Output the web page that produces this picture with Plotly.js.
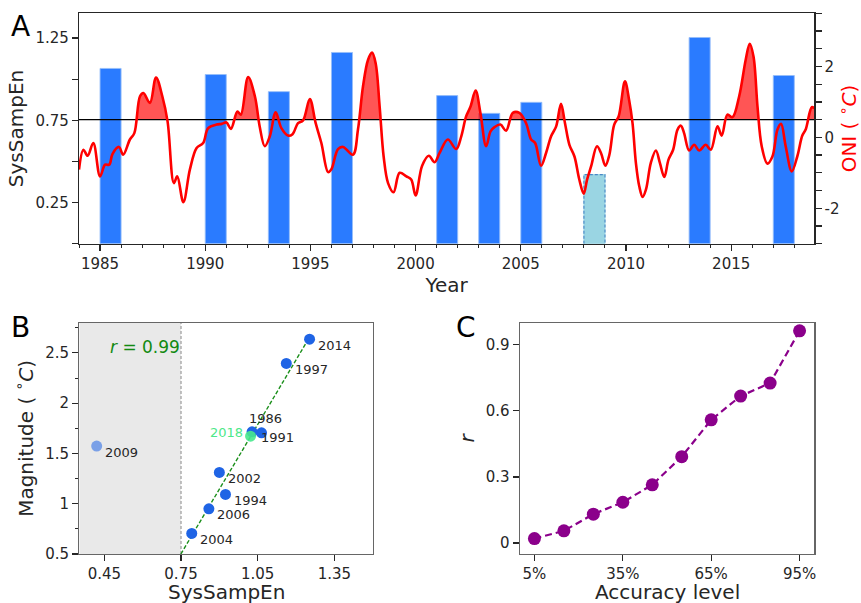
<!DOCTYPE html>
<html>
<head>
<meta charset="utf-8">
<script src="https://cdn.plot.ly/plotly-3.0.1.min.js"></script>
<style>html,body{margin:0;padding:0;background:#fff}#chart{width:861px;height:603px}</style>
</head>
<body>
<div id="chart"></div>
<script>
// ---------------- DATA ----------------
const oniYears = [1984.0,1984.21,1984.41,1984.68,1985.0,1985.24,1985.44,1985.59,1985.9,1986.1,1986.42,1986.63,1986.9,1987.06,1987.37,1987.66,1987.96,1988.21,1988.51,1988.67,1988.96,1989.27,1989.59,1989.9,1990.14,1990.54,1990.78,1991.01,1991.22,1991.53,1991.69,1992.04,1992.36,1992.59,1992.83,1993.07,1993.35,1993.62,1993.94,1994.15,1994.41,1994.65,1994.97,1995.25,1995.52,1995.84,1995.99,1996.31,1996.55,1997.02,1997.26,1997.5,1997.74,1997.93,1998.1,1998.29,1998.48,1998.69,1998.95,1999.24,1999.56,1999.79,2000.0,2000.31,2000.63,2000.9,2001.14,2001.53,2001.93,2002.17,2002.4,2002.61,2002.85,2003.08,2003.35,2003.56,2003.75,2004.03,2004.3,2004.62,2004.93,2005.25,2005.49,2005.68,2005.96,2006.2,2006.44,2006.68,2006.91,2007.1,2007.31,2007.55,2007.78,2007.99,2008.15,2008.34,2008.62,2008.81,2009.02,2009.21,2009.44,2009.65,2009.95,2010.15,2010.31,2010.47,2010.63,2010.79,2010.95,2011.18,2011.42,2011.61,2011.82,2012.02,2012.24,2012.45,2012.61,2012.76,2013.0,2013.24,2013.48,2013.79,2014.03,2014.35,2014.55,2014.82,2015.06,2015.38,2015.69,2015.88,2016.06,2016.25,2016.45,2016.72,2016.96,2017.2,2017.37,2017.59,2017.88,2018.14,2018.38,2018.54,2018.83,2018.95];
const oniValues = [-0.91,-0.35,-0.52,-0.16,-1.10,-0.77,-0.77,-0.47,-0.27,-0.49,-0.06,0.12,1.16,1.25,0.97,1.69,1.16,0.45,-1.29,-1.10,-1.83,-0.91,-0.30,-0.16,0.26,0.36,0.38,0.42,0.24,0.73,0.64,1.70,1.16,0.30,-0.25,0.03,0.71,0.26,0.05,0.09,0.40,0.48,1.08,0.40,-0.16,-0.98,-0.91,-0.33,-0.27,-0.49,0.22,1.44,2.19,2.39,2.09,0.87,-0.54,-1.29,-1.55,-1.00,-1.10,-1.19,-1.64,-0.80,-0.52,-0.70,-0.44,-0.06,-0.33,0.03,0.59,0.87,1.32,0.69,-0.25,0.17,0.29,0.36,0.19,0.69,0.69,0.40,-0.06,-0.16,-0.80,-0.44,0.03,0.31,0.95,0.40,-0.21,-0.54,-1.19,-1.59,-1.19,-0.82,-0.25,-0.44,-0.80,-0.49,0.36,0.59,1.58,1.05,0.40,-0.72,-1.38,-1.68,-1.47,-0.72,-0.37,-0.72,-1.12,-0.63,-0.35,0.22,0.33,0.12,-0.37,-0.21,-0.37,-0.21,-0.35,0.31,0.05,0.64,0.57,1.16,2.19,2.64,2.28,0.87,-0.25,-0.74,-0.54,0.22,0.38,-0.25,-0.96,-0.54,0.05,0.22,0.85,0.82];

const eventYears = [1986,1991,1994,1997,2002,2004,2006,2009,2014,2018];
const sysSampEn  = [1.065,1.028,0.924,1.162,0.900,0.792,0.859,0.420,1.253,1.022];
const magnitude  = [1.705,1.715,1.092,2.395,1.311,0.705,0.949,1.573,2.636,1.672];

const accuracyLevels = [5,15,25,35,45,55,65,75,85,95];
const accuracyR      = [0.020,0.055,0.131,0.185,0.264,0.392,0.559,0.667,0.726,0.963];

const oniThreshold = 0.5;     // ONI El Nino threshold (right axis)
const sseThreshold = 0.75;    // SysSampEn threshold
const rText = '0.99';

// ---------------- STYLE ----------------
const FONT = 'DejaVu Sans, sans-serif';
const INK = '#262626';
const BLUE_BAR = '#2a7bff';
const CYAN_BAR = '#9ad5e3';
const labelShift = {1986:[4,14], 2018:[-24,4]};
const defShift = [25,-6];

// ---------------- PANEL A ----------------
const barX = eventYears.map(y => y - 0.5);
const barColors = sysSampEn.map(v => v < sseThreshold ? CYAN_BAR : BLUE_BAR);
const barLines = sysSampEn.map(v => v < sseThreshold ? CYAN_BAR : 'rgba(150,190,250,0.9)');

// fill region above threshold, with crossing points inserted
const fx = [], fy = [];
for (let i = 0; i < oniYears.length; i++) {
  if (i > 0) {
    const a = oniValues[i-1] - oniThreshold, b = oniValues[i] - oniThreshold;
    if (a * b < 0) {
      const t = a / (a - b);
      fx.push(oniYears[i-1] + t * (oniYears[i] - oniYears[i-1]));
      fy.push(oniThreshold);
    }
  }
  fx.push(oniYears[i]);
  fy.push(Math.max(oniValues[i], oniThreshold));
}

const traces = [];
traces.push({type:'bar', x:barX, y:sysSampEn, width:1, xaxis:'x', yaxis:'y',
  marker:{color:barColors, line:{color:barLines, width:1}}, hoverinfo:'skip', showlegend:false});
// dashed outline for the below-threshold bar(s)
eventYears.forEach((yr,i) => {
  if (sysSampEn[i] < sseThreshold) {
    traces.push({type:'scatter', mode:'lines', x:[yr-1, yr-1, yr, yr], y:[0, sysSampEn[i], sysSampEn[i], 0],
      xaxis:'x', yaxis:'y', line:{color:'#4a87c6', width:1.1, dash:'3px,2px'}, hoverinfo:'skip', showlegend:false});
  }
});
traces.push({type:'scatter', mode:'lines', x:fx, y:fx.map(()=>oniThreshold), xaxis:'x', yaxis:'y2',
  line:{width:0, color:'rgba(0,0,0,0)'}, hoverinfo:'skip', showlegend:false});
traces.push({type:'scatter', mode:'lines', x:fx, y:fy, xaxis:'x', yaxis:'y2', fill:'tonexty',
  fillcolor:'rgba(255,20,20,0.72)', line:{width:0, shape:'spline', smoothing:1, color:'rgba(0,0,0,0)'},
  hoverinfo:'skip', showlegend:false});
traces.push({type:'scatter', mode:'lines', x:[oniYears[0]-1, oniYears[oniYears.length-1]+1],
  y:[oniThreshold, oniThreshold], xaxis:'x', yaxis:'y2', line:{color:'#000', width:1.3},
  hoverinfo:'skip', showlegend:false});
traces.push({type:'scatter', mode:'lines', x:oniYears, y:oniValues, xaxis:'x', yaxis:'y2',
  line:{color:'#ff0000', width:2.6, shape:'spline', smoothing:1}, showlegend:false});

// ---------------- PANEL B ----------------
const fitIdx = sysSampEn.map((v,i)=>i).filter(i => sysSampEn[i] >= sseThreshold);
const mx = fitIdx.reduce((s,i)=>s+sysSampEn[i],0)/fitIdx.length;
const my = fitIdx.reduce((s,i)=>s+magnitude[i],0)/fitIdx.length;
let sxy = 0, sxx = 0;
fitIdx.forEach(i => { sxy += (sysSampEn[i]-mx)*(magnitude[i]-my); sxx += (sysSampEn[i]-mx)**2; });
const slope = sxy/sxx, icpt = my - slope*mx;
const yBottom = 0.5;
const fitX0 = (yBottom - icpt)/slope;
const fitX1 = Math.max(...fitIdx.map(i=>sysSampEn[i]));
traces.push({type:'scatter', mode:'lines', x:[fitX0, fitX1], y:[slope*fitX0+icpt, slope*fitX1+icpt],
  xaxis:'x2', yaxis:'y3', line:{color:'#1b8f1b', width:1.4, dash:'4px,2px'}, hoverinfo:'skip', showlegend:false});

const ptColors = eventYears.map((y,i) => y === 2018 ? 'rgba(70,232,140,0.9)' :
  (sysSampEn[i] < sseThreshold ? 'rgba(31,100,229,0.55)' : '#1f64e5'));
const order = eventYears.map((y,i)=>i).sort((a,b)=> (eventYears[a]===2018) - (eventYears[b]===2018));
traces.push({type:'scatter', mode:'markers', x:order.map(i=>sysSampEn[i]), y:order.map(i=>magnitude[i]),
  xaxis:'x2', yaxis:'y3', marker:{size:11, color:order.map(i=>ptColors[i])}, showlegend:false});

// ---------------- PANEL C ----------------
traces.push({type:'scatter', mode:'lines+markers', x:accuracyLevels, y:accuracyR, xaxis:'x3', yaxis:'y4',
  line:{color:'#8b008b', width:2.2, dash:'7px,4px'}, marker:{size:13, color:'#8b008b'}, showlegend:false});

// ---------------- LAYOUT ----------------
const W = 861, H = 603;
const dx = (a,b) => [a/W, b/W];
const dy = (top,bot) => [1 - bot/H, 1 - top/H];
const tickFont = {family:FONT, size:15, color:INK};
const titleFont = {family:FONT, size:20, color:INK};
const panelFont = {family:FONT, size:28, color:'#000'};

const annotations = [
  {text:'A', x:20/W, y:1-26/H, xref:'paper', yref:'paper', xanchor:'center', yanchor:'middle', showarrow:false, font:panelFont},
  {text:'B', x:20/W, y:1-327/H, xref:'paper', yref:'paper', xanchor:'center', yanchor:'middle', showarrow:false, font:panelFont},
  {text:'C', x:466/W, y:1-327/H, xref:'paper', yref:'paper', xanchor:'center', yanchor:'middle', showarrow:false, font:panelFont},
  {text:'<i>r</i> = ' + rText, x:108/W, y:1-347/H, xref:'paper', yref:'paper', xanchor:'left', yanchor:'middle', showarrow:false,
   font:{family:FONT, size:17, color:'#128a12'}},
  // bottom axis titles of panels B and C
  {text:'SysSampEn', x:0.5, xref:'x2 domain', y:1-592/H, yref:'paper', xanchor:'center', yanchor:'middle', showarrow:false, font:titleFont},
  {text:'Accuracy level', x:0.5, xref:'x3 domain', y:1-592/H, yref:'paper', xanchor:'center', yanchor:'middle', showarrow:false, font:titleFont}
];
eventYears.forEach((yr,i) => {
  const s = labelShift[yr] || defShift;
  annotations.push({text:String(yr), x:sysSampEn[i], y:magnitude[i], xref:'x2', yref:'y3', showarrow:false,
    xshift:s[0], yshift:s[1], font:{family:FONT, size:13, color: yr===2018 ? '#4de889' : INK}});
});

const xBmin = 0.352, xBmax = 1.50;
const shapes = [
  {type:'rect', xref:'x2', yref:'y3 domain', x0:xBmin, x1:sseThreshold, y0:0, y1:1,
   fillcolor:'#e9e9e9', line:{width:0}, layer:'below'},
  {type:'line', xref:'x2', yref:'y3 domain', x0:sseThreshold, x1:sseThreshold, y0:0, y1:1,
   line:{color:'#8a8a8a', width:1, dash:'3px,2px'}, layer:'below'}
];

const axBase = {ticks:'outside', ticklen:6, tickwidth:1.2, tickcolor:INK, showgrid:false, zeroline:false,
  tickfont:tickFont, showline:true, linewidth:1.2};

const layout = {
  width:W, height:H, margin:{l:0,r:0,t:0,b:0}, paper_bgcolor:'#fff', plot_bgcolor:'rgba(0,0,0,0)',
  font:{family:FONT, color:INK}, showlegend:false, bargap:0,
  xaxis:Object.assign({}, axBase, {domain:dx(79,814.3), anchor:'y', range:[1984, 2018.95],
    tickvals:[1985,1990,1995,2000,2005,2010,2015], linecolor:INK, mirror:true,
    minor:{dtick:1, ticks:'outside', ticklen:3.5, tickwidth:1, tickcolor:INK},
    title:{text:'Year', font:titleFont, standoff:3}}),
  yaxis:Object.assign({}, axBase, {domain:dy(13.3,243.7), anchor:'x', range:[0,1.4],
    tickvals:[0.25,0.75,1.25], ticktext:['0.25','0.75','1.25'], linecolor:INK,
    minor:{tickvals:[0,0.5,1.0], ticks:'outside', ticklen:6, tickwidth:1.2, tickcolor:INK},
    title:{text:'SysSampEn', font:titleFont, standoff:6}}),
  yaxis2:Object.assign({}, axBase, {overlaying:'y', side:'right', anchor:'x', range:[-3,3.5],
    tickvals:[-2,0,2], ticktext:['-2','0','2'], linecolor:INK,
    minor:{tickvals:[-3,-2.5,-1.5,-1,-0.5,0.5,1,1.5,2.5,3,3.5], ticks:'outside', ticklen:6, tickwidth:1.2, tickcolor:INK},
    title:{text:'ONI ( <sup>∘</sup><i>C</i>)', font:{family:FONT, size:20, color:'#ff0000'}, standoff:8}}),
  xaxis2:Object.assign({}, axBase, {domain:dx(79.3,372.7), anchor:'y3', range:[xBmin,xBmax],
    tickvals:[0.45,0.75,1.05,1.35], ticktext:['0.45','0.75','1.05','1.35'], linecolor:'#666', mirror:true}),
  yaxis3:Object.assign({}, axBase, {domain:dy(322.7,554), anchor:'x2', range:[0.5,2.8],
    tickvals:[0.5,1,1.5,2,2.5], ticktext:['0.5','1','1.5','2','2.5'], linecolor:'#666', mirror:true,
    minor:{tickvals:[0.75,1.25,1.75,2.25,2.75], ticks:'outside', ticklen:3.5, tickwidth:1, tickcolor:INK},
    title:{text:'Magnitude ( <sup>∘</sup><i>C</i>)', font:titleFont, standoff:6}}),
  xaxis3:Object.assign({}, axBase, {domain:dx(519.7,814.3), anchor:'y4', range:[0,100],
    tickvals:[5,35,65,95], ticktext:['5%','35%','65%','95%'], linecolor:'#666', mirror:true}),
  yaxis4:Object.assign({}, axBase, {domain:dy(322.7,554), anchor:'x3', range:[-0.05,1.0],
    tickvals:[0,0.3,0.6,0.9], ticktext:['0','0.3','0.6','0.9'], linecolor:'#666', mirror:true,
    title:{text:'<i>r</i>', font:titleFont, standoff:5}}),
  annotations:annotations, shapes:shapes
};

Plotly.newPlot('chart', traces, layout, {staticPlot:true, displayModeBar:false});
</script>
</body>
</html>
